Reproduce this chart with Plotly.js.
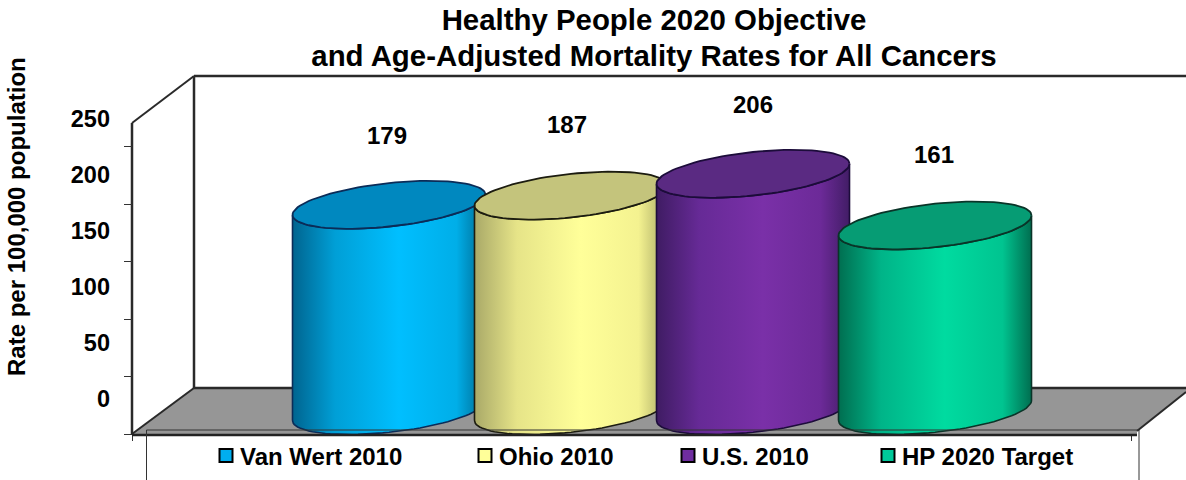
<!DOCTYPE html>
<html>
<head>
<meta charset="utf-8">
<script src="https://cdn.plot.ly/plotly-3.0.1.min.js"></script>
<style>html,body{margin:0;padding:0;background:#fff}#chart{width:1186px;height:480px}</style>
</head>
<body>
<div id="chart"></div>
<script>
// Series
const categories = ['Van Wert 2010', 'Ohio 2010', 'U.S. 2010', 'HP 2020 Target'];
const rates = [179, 187, 206, 161];
const yTicks = [0, 50, 100, 150, 200, 250];

// Cylinder colours: side shading, lid, outline, legend swatch
const sideShades = [
  ['#00648f', '#009fd6', '#00bfff', '#00aee8', '#00688f'],
  ['#a9a968', '#e6e488', '#ffff99', '#f4f290', '#a6a664'],
  ['#3f1c63', '#662a96', '#7a30a8', '#6c2a98', '#421d66'],
  ['#006e50', '#00b488', '#00dba0', '#00c490', '#006e50']
];
const shadeStops = [0, 0.22, 0.55, 0.85, 1];
const lidColors = ['#0088bf', '#c4c47c', '#5a2a82', '#069c74'];
const outlineColors = ['#0b2c58', '#1c1c10', '#1c0c3a', '#0a3428'];
const swatchColors = ['#00aeef', '#ffff99', '#6f2da0', '#00c99a'];

// Page and drawing geometry, in page pixels
const W = 1186, H = 480;
const FONT = '"Liberation Sans", Arial, sans-serif';
const slotPx = 182, firstSlotPx = 389;       // horizontal spacing of the cylinders
const zeroPx = 434, unitPx = 1.149;          // main value axis
const labelZeroPx = 399, labelUnitPx = 1.12; // printed value scale, offset from the front wall
const radiusPx = 96.5, rimPx = 21.8, tiltPx = 10, baseLiftPx = 23.5;

const px = x => x / W;
const py = y => 1 - y / H;

// Point on a tilted elliptical rim around category slot i at height v
function rim(i, v, t) {
  return [
    i + radiusPx * Math.cos(t) / slotPx,
    v + (baseLiftPx + tiltPx * Math.cos(t) + rimPx * Math.sin(t)) / unitPx
  ];
}

const traces = [];
rates.forEach((v, i) => {
  const bx = [], by = [], lx = [], ly = [];
  // side wall: down the left edge, along the front of the base, back along the front of the lid
  for (let k = 0; k <= 48; k++) {
    const p = rim(i, 0, Math.PI + Math.PI * k / 48);
    bx.push(p[0]); by.push(p[1]);
  }
  for (let k = 48; k >= 0; k--) {
    const p = rim(i, v, Math.PI + Math.PI * k / 48);
    bx.push(p[0]); by.push(p[1]);
  }
  bx.push(bx[0]); by.push(by[0]);
  for (let k = 0; k <= 96; k++) {
    const p = rim(i, v, 2 * Math.PI * k / 96);
    lx.push(p[0]); ly.push(p[1]);
  }
  traces.push({
    type: 'scatter', mode: 'lines', x: bx, y: by, fill: 'toself',
    fillgradient: {
      type: 'horizontal',
      colorscale: shadeStops.map((s, n) => [s, sideShades[i][n]])
    },
    line: {color: outlineColors[i], width: 1.6},
    showlegend: false, hoverinfo: 'skip'
  });
  traces.push({
    type: 'scatter', mode: 'lines', x: lx, y: ly, fill: 'toself',
    fillcolor: lidColors[i],
    line: {color: outlineColors[i], width: 1.8},
    showlegend: false, hoverinfo: 'skip'
  });
});

// Legend entries, each in its own legend so the spacing can be set per item
const legendLeftPx = [206, 465, 668, 868];
const legends = {};
categories.forEach((name, i) => {
  const id = i === 0 ? 'legend' : 'legend' + (i + 1);
  traces.push({
    type: 'scatter', mode: 'markers', name, x: [null], y: [null], yaxis: 'y2',
    legend: id, showlegend: true, hoverinfo: 'skip',
    marker: {symbol: 'square', size: 13, color: swatchColors[i], line: {color: '#000', width: 2}}
  });
  legends[id] = {
    x: px(legendLeftPx[i]), y: py(456), xanchor: 'left', yanchor: 'middle',
    bgcolor: 'rgba(0,0,0,0)', borderwidth: 0, indentation: -6,
    font: {family: FONT, size: 24, color: '#000', weight: 700}
  };
});

const ink = '#2a2a2a';
const seg = (x0, y0, x1, y1, width, color, layer) => ({
  type: 'line', xref: 'paper', yref: 'paper', layer: layer || 'below',
  x0: px(x0), y0: py(y0), x1: px(x1), y1: py(y1),
  line: {color: color || ink, width: width || 2}
});
const floorPath = [[132, 434], [194, 388], [1186, 388], [1186, 392], [1137, 431], [1137, 434]]
  .map((p, n) => (n ? 'L' : 'M') + px(p[0]) + ',' + py(p[1])).join(' ') + ' Z';

const shapes = [
  {type: 'path', xref: 'paper', yref: 'paper', layer: 'below', path: floorPath,
   fillcolor: '#969696', line: {width: 0}},
  seg(194, 76, 1186, 76, 2.5),
  seg(194, 76, 194, 388, 2.5),
  seg(194, 388, 1186, 388, 2.5),
  seg(132, 123, 132, 434, 2.5),
  seg(132, 123, 194, 76, 2),
  seg(132, 434, 194, 388, 2),
  seg(1137, 431, 1186, 392, 2),
  seg(132, 435, 1137, 435, 2.5, '#222', 'above'),
  seg(146.5, 430, 1139, 430, 1, '#333', 'above'),
  seg(146.5, 430, 146.5, 480, 1, '#333', 'above'),
  seg(1139, 430, 1139, 480, 1, '#333', 'above')
];

// Value labels float above each lid, nudged a little so they sit where the layout wants them
const labelXShift = [-2, -4, 0, -1];
const labelYShift = [93, 95, 93, 95];
const annotations = rates.map((v, i) => ({
  x: i, y: v, xref: 'x', yref: 'y', xshift: labelXShift[i], yshift: labelYShift[i], showarrow: false,
  text: String(v), font: {family: FONT, size: 24, color: '#000', weight: 700}
}));
annotations.push({
  xref: 'paper', yref: 'paper', x: px(16), y: py(217), xanchor: 'center', yanchor: 'middle',
  showarrow: false, textangle: -90,
  text: '<b>Rate per 100,000 population</b>',
  font: {family: FONT, size: 24, color: '#000'}
});

const layout = {
  width: W, height: H,
  margin: {l: 0, r: 0, t: 0, b: 0, pad: 0},
  paper_bgcolor: '#fff', plot_bgcolor: 'rgba(0,0,0,0)',
  title: {
    text: '<b><span style="font-size:29.4px">Healthy People 2020 Objective</span><br>' +
          '<span style="font-size:29.4px">and Age-Adjusted Mortality Rates for All Cancers</span></b>',
    font: {family: FONT, size: 27.7, color: '#000'},
    x: px(654), xanchor: 'center', xref: 'paper',
    y: py(29.5), yanchor: 'top', yref: 'paper'
  },
  showlegend: true,
  xaxis: {
    range: [(0 - firstSlotPx) / slotPx, (W - firstSlotPx) / slotPx],
    anchor: 'free', position: py(zeroPx),
    tickmode: 'array', tickvals: [(132 - firstSlotPx) / slotPx, (1131 - firstSlotPx) / slotPx],
    ticks: 'outside', ticklen: 6, tickwidth: 1, tickcolor: '#333',
    showticklabels: false, showgrid: false, zeroline: false, showline: false
  },
  yaxis: {
    range: [(zeroPx - H) / unitPx, zeroPx / unitPx],
    anchor: 'free', position: px(132),
    tickmode: 'array', tickvals: yTicks,
    ticks: 'outside', ticklen: 8, tickwidth: 1, tickcolor: '#333',
    showticklabels: false, showgrid: false, zeroline: false, showline: false
  },
  yaxis2: {
    overlaying: 'y',
    range: [(labelZeroPx - H) / labelUnitPx, labelZeroPx / labelUnitPx],
    anchor: 'free', position: px(110),
    tickmode: 'array', tickvals: yTicks, ticktext: yTicks.map(t => '<b>' + t + '</b>'),
    ticks: '', tickfont: {family: FONT, size: 23.5, color: '#000'},
    showgrid: false, zeroline: false, showline: false
  },
  shapes, annotations
};
Object.assign(layout, legends);

Plotly.newPlot('chart', traces, layout, {displayModeBar: false, staticPlot: true}).then(gd => {
  // Pull each legend swatch closer to its label
  gd.querySelectorAll('.legendsymbols').forEach(g => g.setAttribute('transform', 'translate(6,0)'));
});
</script>
</body>
</html>
